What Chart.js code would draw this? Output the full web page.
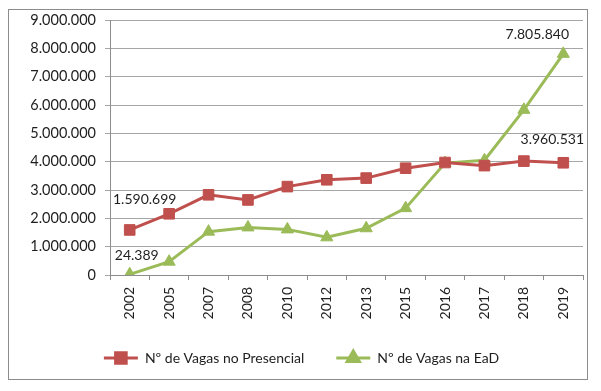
<!DOCTYPE html>
<html>
<head>
<meta charset="utf-8">
<script src="https://cdn.jsdelivr.net/npm/chart.js@4.4.0/dist/chart.umd.min.js"></script>
<style>
  body { margin: 0; background: #ffffff; }
  .frame {
    position: absolute; left: 8px; top: 9px;
    width: 578px; height: 369px;
    border: 1.5px solid #8c8c8c;
  }
  #chart { position: absolute; left: 0; top: 0; }
</style>
</head>
<body>
<div class="frame"></div>
<canvas id="chart" width="601" height="391"></canvas>
<script>
// years on the x axis
const years = ['2002', '2005', '2007', '2008', '2010', '2012', '2013', '2015', '2016', '2017', '2018', '2019']

// Nº de Vagas no Presencial
const presencial = [1590699, 2160000, 2830000, 2650000, 3120000, 3360000, 3420000, 3770000, 3970000, 3860000, 4020000, 3960531]

// Nº de Vagas na EaD
const ead = [24389, 470000, 1530000, 1680000, 1610000, 1330000, 1650000, 2360000, 3950000, 4050000, 5830000, 7805840]

const seriesNames = ['Nº de Vagas no Presencial', 'Nº de Vagas na EaD']
const seriesColors = ['#C0504D', '#9BBB59']
const markers = ['rect', 'triangle']

// which points get a value label, and the label offset from the point
const shownLabels = [
  [{ i: 0, dx: 15, dy: -30 }, { i: 11, dx: -11, dy: -23 }],
  [{ i: 0, dx: 7, dy: -19 }, { i: 11, dx: -26, dy: -19 }]
]

const fontFamily = 'Lato, "Liberation Sans", sans-serif'
const textColor = '#1e1e1e'

function fmt(n) {
  return String(Math.round(n)).replace(/\B(?=(\d{3})+(?!\d))/g, '.')
}

const valueLabels = {
  id: 'valueLabels',
  afterDatasetsDraw(chart) {
    const ctx = chart.ctx
    ctx.save()
    ctx.font = '14px ' + fontFamily
    ctx.fillStyle = textColor
    ctx.textAlign = 'center'
    ctx.textBaseline = 'middle'
    shownLabels.forEach((list, d) => {
      const meta = chart.getDatasetMeta(d)
      list.forEach((l) => {
        const pt = meta.data[l.i]
        const v = chart.data.datasets[d].data[l.i]
        ctx.fillText(fmt(v), pt.x + l.dx, pt.y + l.dy)
      })
    })
    ctx.restore()
  }
}

// legend shows a line with the marker drawn on it
const legendMarkers = {
  id: 'legendMarkers',
  afterDraw(chart) {
    const legend = chart.legend
    if (!legend || !legend.legendHitBoxes) return
    const ctx = chart.ctx
    legend.legendHitBoxes.forEach((box, d) => {
      const bw = legend.options.labels.boxWidth
      const cx = box.left + bw / 2
      const cy = box.top + box.height / 2
      ctx.save()
      ctx.strokeStyle = seriesColors[d]
      ctx.lineWidth = 3
      ctx.beginPath()
      ctx.moveTo(box.left, cy)
      ctx.lineTo(box.left + bw, cy)
      ctx.stroke()
      Chart.helpers.drawPoint(ctx, {
        pointStyle: markers[d],
        radius: d === 0 ? 7.5 : 7,
        rotation: 0,
        borderWidth: 1
      }, cx, cy)
      ctx.fillStyle = seriesColors[d]
      ctx.fill()
      ctx.restore()
    })
  }
}

const ctx = document.getElementById('chart').getContext('2d')
const datasets = [presencial, ead].map((values, d) => {
  return {
    label: seriesNames[d],
    data: values,
    borderColor: seriesColors[d],
    backgroundColor: seriesColors[d],
    borderWidth: 3,
    pointStyle: markers[d],
    pointRadius: d === 0 ? 7.5 : 7,
    pointBorderWidth: 1,
    tension: 0
  }
})

new Chart(ctx, {
  type: 'line',
  data: { labels: years, datasets },
  plugins: [valueLabels, legendMarkers],
  options: {
    responsive: false,
    animation: false,
    layout: { padding: { left: 20, right: 18, top: 20, bottom: 16 } },
    scales: {
      x: {
        offset: true,
        grid: {
          offset: true,
          drawOnChartArea: false,
          drawTicks: true,
          tickLength: 5,
          color: '#8c8c8c'
        },
        border: { color: '#8c8c8c', width: 1 },
        ticks: {
          color: textColor,
          minRotation: 90,
          maxRotation: 90,
          padding: 7,
          font: { family: fontFamily, size: 14 }
        },
        afterFit(scale) {
          scale.height = 44
        }
      },
      y: {
        min: 0,
        max: 9000000,
        grid: {
          color: '#a6a6a6',
          tickLength: 5
        },
        border: { color: '#8c8c8c', width: 1 },
        ticks: {
          stepSize: 1000000,
          color: textColor,
          padding: 9,
          font: { family: fontFamily, size: 14.5 },
          callback: (v) => fmt(v)
        },
        afterFit(scale) {
          scale.width = 90
        }
      }
    },
    plugins: {
      legend: {
        position: 'bottom',
        labels: {
          color: textColor,
          boxWidth: 34,
          boxHeight: 0,
          padding: 32,
          font: { family: fontFamily, size: 14 },
          generateLabels(chart) {
            return chart.data.datasets.map((ds, i) => ({
              text: ds.label,
              fillStyle: 'rgba(0,0,0,0)',
              strokeStyle: 'rgba(0,0,0,0)',
              lineWidth: 0,
              fontColor: textColor,
              datasetIndex: i
            }))
          }
        }
      },
      tooltip: { enabled: false }
    }
  }
})
</script>
</body>
</html>
